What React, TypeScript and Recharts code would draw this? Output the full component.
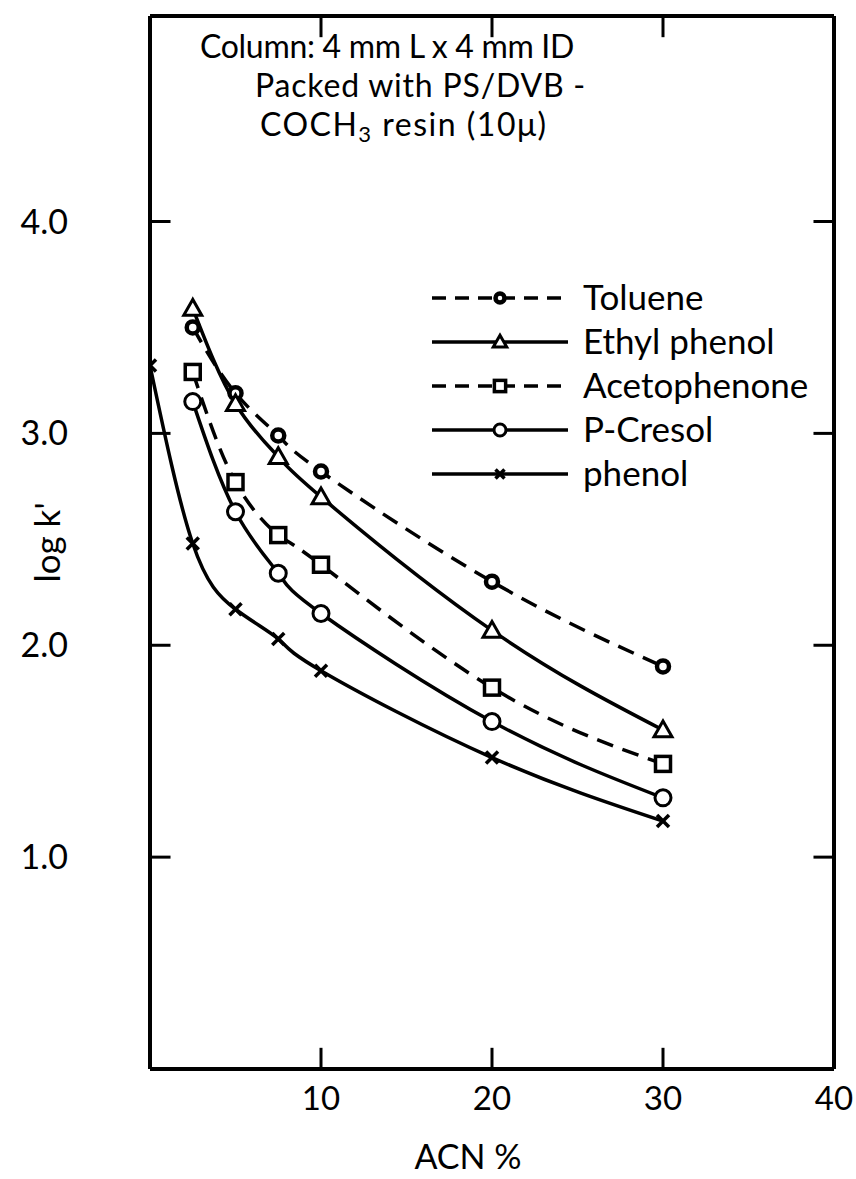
import { LineChart, Line, XAxis, YAxis, ReferenceLine, Legend } from "recharts";

// ACN % where the four solutes were measured; phenol also has a point at 0 %
const acn = [2.5, 5, 7.5, 10, 20, 30];
const phenolAcn = [0, 2.5, 5, 7.5, 10, 20, 30];

const toluene = [3.5, 3.19, 2.99, 2.82, 2.3, 1.9];
const ethylPhenol = [3.59, 3.14, 2.89, 2.7, 2.07, 1.6];
const acetophenone = [3.29, 2.77, 2.52, 2.38, 1.8, 1.44];
const pCresol = [3.15, 2.63, 2.34, 2.15, 1.64, 1.28];
const phenol = [3.32, 2.48, 2.17, 2.03, 1.88, 1.47, 1.17];

const xTicks = [10, 20, 30, 40];
const xInnerTicks = [10, 20, 30];
const yTicks = [1, 2, 3, 4];
const yMax = 4.97;

const font = "Lato, 'DejaVu Sans', sans-serif";

const toRows = (xs: number[], ys: number[]) => xs.map((x, i) => ({ x, y: ys[i] }));

const series = [
  { name: "Toluene", xs: acn, ys: toluene, dashed: true, shape: "gear" },
  { name: "Ethyl phenol", xs: acn, ys: ethylPhenol, dashed: false, shape: "tri" },
  { name: "Acetophenone", xs: acn, ys: acetophenone, dashed: true, shape: "square" },
  { name: "P-Cresol", xs: acn, ys: pCresol, dashed: false, shape: "circle" },
  { name: "phenol", xs: phenolAcn, ys: phenol, dashed: false, shape: "cross" },
];

function Marker({ cx, cy, shape, small }: any) {
  const s = small ? 0.75 : 1;
  if (shape === "tri") {
    const h = 9 * s;
    return (
      <polygon
        points={`${cx},${cy - h} ${cx - h},${cy + h * 0.75} ${cx + h},${cy + h * 0.75}`}
        fill="#fff"
        stroke="#000"
        strokeWidth={3}
      />
    );
  }
  if (shape === "square") {
    const h = 7.5 * s;
    return <rect x={cx - h} y={cy - h} width={h * 2} height={h * 2} fill="#fff" stroke="#000" strokeWidth={3.5} />;
  }
  if (shape === "circle") {
    return <circle cx={cx} cy={cy} r={8 * s} fill="#fff" stroke="#000" strokeWidth={3} />;
  }
  if (shape === "gear") {
    return <circle cx={cx} cy={cy} r={6 * s} fill="#fff" stroke="#000" strokeWidth={4.5} />;
  }
  const h = 6 * s;
  return (
    <g stroke="#000" strokeWidth={3.5}>
      <line x1={cx - h} y1={cy - h} x2={cx + h} y2={cy + h} />
      <line x1={cx - h} y1={cy + h} x2={cx + h} y2={cy - h} />
    </g>
  );
}

function LegendBox() {
  return (
    <svg width={420} height={230} style={{ overflow: "visible" }}>
      {series.map((s, i) => {
        const y = 16 + i * 44;
        return (
          <g key={s.name}>
            <line
              x1={0}
              x2={136}
              y1={y}
              y2={y}
              stroke="#000"
              strokeWidth={3.5}
              strokeDasharray={s.dashed ? "14 9" : undefined}
            />
            <Marker cx={68} cy={y} shape={s.shape} small />
            <text x={151} y={y} dy="0.35em" fontSize={35} fontFamily={font} fill="#000">
              {s.name}
            </text>
          </g>
        );
      })}
    </svg>
  );
}

export default function App() {
  return (
    <div style={{ position: "absolute", left: 0, top: 0, width: 856, height: 1179, background: "#fff" }}>
      <LineChart width={856} height={1179} margin={{ top: 14, right: 20, bottom: 0, left: 20 }}>
        <XAxis
          dataKey="x"
          type="number"
          domain={[0, 40]}
          ticks={xTicks}
          allowDataOverflow
          height={110}
          tickSize={0}
          tickMargin={18}
          tickLine={false}
          axisLine={{ stroke: "#000", strokeWidth: 4 }}
          tick={{ fill: "#000", fontSize: 33, fontFamily: font }}
          label={{ value: "ACN %", position: "insideBottom", offset: 10, dx: -24, fill: "#000", fontSize: 34, fontFamily: font }}
        />
        <XAxis
          xAxisId="top"
          dataKey="x"
          type="number"
          orientation="top"
          domain={[0, 40]}
          height={2}
          tick={false}
          tickLine={false}
          axisLine={{ stroke: "#000", strokeWidth: 4 }}
        />
        <YAxis
          type="number"
          domain={[0, yMax]}
          ticks={yTicks}
          allowDataOverflow
          width={130}
          tickSize={0}
          tickMargin={82}
          tickLine={false}
          tickFormatter={(v: number) => v.toFixed(1)}
          axisLine={{ stroke: "#000", strokeWidth: 4 }}
          tick={{ fill: "#000", fontSize: 34, fontFamily: font }}
          label={{
            content: (p: any) => {
              const vb = p.viewBox;
              const x = vb.x + 28;
              const y = vb.y + vb.height / 2;
              return (
                <text x={x} y={y} transform={`rotate(-90 ${x} ${y})`} textAnchor="middle" dy="0.35em" fontSize={35} fontFamily={font} fill="#000">
                  log k'
                </text>
              );
            },
          }}
        />
        <YAxis
          yAxisId="right"
          orientation="right"
          type="number"
          domain={[0, yMax]}
          width={2}
          tick={false}
          tickLine={false}
          axisLine={{ stroke: "#000", strokeWidth: 4 }}
        />

        {yTicks.map((v) => (
          <ReferenceLine key={"l" + v} segment={[{ x: 0, y: v }, { x: 1.2, y: v }]} stroke="#000" strokeWidth={3} />
        ))}
        {yTicks.map((v) => (
          <ReferenceLine key={"r" + v} segment={[{ x: 38.8, y: v }, { x: 40, y: v }]} stroke="#000" strokeWidth={3} />
        ))}
        {xInnerTicks.map((v) => (
          <ReferenceLine key={"b" + v} segment={[{ x: v, y: 0 }, { x: v, y: 0.1 }]} stroke="#000" strokeWidth={3} />
        ))}
        {xInnerTicks.map((v) => (
          <ReferenceLine key={"t" + v} segment={[{ x: v, y: yMax - 0.1 }, { x: v, y: yMax }]} stroke="#000" strokeWidth={3} />
        ))}

        {series.map((s) => (
          <Line
            key={s.name}
            data={toRows(s.xs, s.ys)}
            dataKey="y"
            type="natural"
            stroke="#000"
            strokeWidth={3.5}
            strokeDasharray={s.dashed ? "17 10" : undefined}
            isAnimationActive={false}
            dot={(p: any) => <Marker key={s.name + p.index} cx={p.cx} cy={p.cy} shape={s.shape} />}
            activeDot={false}
            legendType="none"
          />
        ))}

        <Legend
          layout="horizontal"
          verticalAlign="middle"
          align="center"
          content={() => <LegendBox />}
          wrapperStyle={{ position: "absolute", left: 432, top: 282, width: 420, height: 230 }}
        />
      </LineChart>

      <div
        style={{
          position: "absolute",
          left: 200,
          top: 26,
          fontFamily: font,
          fontSize: 32,
          lineHeight: "39px",
          color: "#000",
          whiteSpace: "nowrap",
        }}
      >
        <div style={{ letterSpacing: -0.3 }}>Column: 4 mm L x 4 mm ID</div>
        <div style={{ paddingLeft: 55, letterSpacing: 0.8 }}>Packed with PS/DVB -</div>
        <div style={{ paddingLeft: 60, letterSpacing: 1.5 }}>
          COCH<sub style={{ fontSize: 22, verticalAlign: "-6px", lineHeight: 0 }}>3</sub> resin (10μ)
        </div>
      </div>
    </div>
  );
}
